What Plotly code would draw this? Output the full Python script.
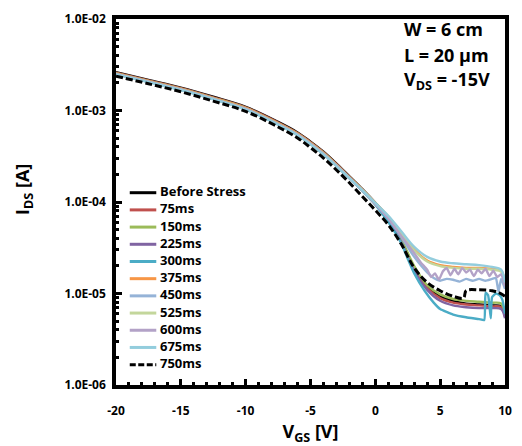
import plotly.graph_objects as go

# ---- data (log10 of I_DS [A]) ----
V_GRID = [-20, -17.5, -15, -12.5, -10, -7.5, -6, -5, -4, -3, -2, -1, 0, 1, 2, 3, 4, 5, 6, 7, 8, 9, 9.7, 10]

LOG_BEFORE = [-2.58, -2.665, -2.75, -2.85, -2.96, -3.125, -3.24, -3.34, -3.45, -3.58, -3.72, -3.86, -4.01, -4.18, -4.42, -4.72, -4.93, -5.03, -5.08, -5.11, -5.12, -5.13, -5.14, -5.25]
LOG_75 = [-2.586, -2.671, -2.756, -2.856, -2.966, -3.131, -3.246, -3.346, -3.456, -3.586, -3.726, -3.866, -4.015, -4.19, -4.43, -4.73, -4.94, -5.05, -5.10, -5.12, -5.13, -5.14, -5.15, -5.25]
LOG_150 = [-2.592, -2.677, -2.762, -2.862, -2.972, -3.137, -3.252, -3.352, -3.462, -3.592, -3.732, -3.87, -4.02, -4.18, -4.41, -4.70, -4.91, -5.01, -5.06, -5.08, -5.09, -5.10, -5.11, -5.22]
LOG_225 = [-2.598, -2.683, -2.768, -2.868, -2.978, -3.143, -3.258, -3.358, -3.468, -3.598, -3.738, -3.875, -4.025, -4.20, -4.44, -4.75, -4.96, -5.08, -5.13, -5.15, -5.16, -5.16, -5.17, -5.27]
LOG_375 = [-2.594, -2.679, -2.764, -2.864, -2.975, -3.14, -3.255, -3.355, -3.465, -3.593, -3.73, -3.865, -4.01, -4.16, -4.34, -4.52, -4.64, -4.69, -4.71, -4.72, -4.72, -4.73, -4.75, -4.88]
LOG_525 = [-2.6, -2.685, -2.77, -2.87, -2.982, -3.147, -3.262, -3.362, -3.472, -3.60, -3.735, -3.87, -4.015, -4.17, -4.35, -4.53, -4.65, -4.70, -4.72, -4.73, -4.73, -4.74, -4.76, -4.90]
LOG_675 = [-2.605, -2.69, -2.776, -2.877, -2.99, -3.156, -3.27, -3.37, -3.48, -3.607, -3.74, -3.872, -4.01, -4.15, -4.32, -4.49, -4.60, -4.65, -4.67, -4.68, -4.69, -4.71, -4.74, -4.88]

V_300 = [-20, -17.5, -15, -12.5, -10, -7.5, -6, -5, -4, -3, -2, -1, 0, 1, 2, 2.5, 3, 3.8, 4.5, 5, 6, 7, 8, 8.4, 8.5, 8.7, 8.9, 9.0, 9.3, 9.6, 9.8, 10]
LOG_300 = [-2.603, -2.688, -2.773, -2.874, -2.986, -3.152, -3.267, -3.367, -3.477, -3.605, -3.74, -3.88, -4.03, -4.22, -4.45, -4.62, -4.78, -4.97, -5.10, -5.17, -5.23, -5.26, -5.28, -5.29, -4.99, -5.02, -5.27, -5.04, -5.00, -5.02, -5.07, -5.22]

V_450 = [-20, -17.5, -15, -12.5, -10, -7.5, -6, -5, -4, -3, -2, -1, 0, 1, 2, 3, 4, 4.5, 5, 5.5, 6, 6.5, 7, 7.5, 8, 8.5, 9, 9.3, 9.5, 9.7, 10]
LOG_450 = [-2.601, -2.686, -2.771, -2.872, -2.984, -3.15, -3.265, -3.365, -3.475, -3.603, -3.738, -3.875, -4.02, -4.18, -4.38, -4.60, -4.77, -4.83, -4.86, -4.84, -4.85, -4.87, -4.84, -4.86, -4.84, -4.86, -4.84, -4.83, -4.98, -4.84, -4.95]

V_600 = [-20, -17.5, -15, -12.5, -10, -7.5, -6, -5, -4, -3, -2, -1, 0, 1, 2, 3, 3.5, 4, 4.3, 4.6, 4.9, 5.2, 5.5, 5.8, 6.1, 6.4, 6.7, 7.0, 7.3, 7.6, 7.9, 8.2, 8.5, 8.8, 9.1, 9.4, 9.7, 10]
LOG_600 = [-2.6, -2.685, -2.77, -2.871, -2.983, -3.148, -3.263, -3.363, -3.473, -3.601, -3.736, -3.873, -4.02, -4.18, -4.37, -4.56, -4.66, -4.74, -4.82, -4.78, -4.85, -4.76, -4.72, -4.80, -4.73, -4.79, -4.72, -4.77, -4.74, -4.81, -4.74, -4.78, -4.73, -4.81, -4.75, -4.82, -4.79, -4.92]

V_750 = [-20, -17.5, -15, -12.5, -10, -7.5, -6, -5, -4, -3, -2, -1, 0, 1, 2, 3, 4, 5, 6, 6.8, 7.0, 8, 9, 9.5, 10]
LOG_750 = [-2.625, -2.708, -2.795, -2.897, -3.01, -3.18, -3.30, -3.405, -3.52, -3.65, -3.79, -3.94, -4.09, -4.25, -4.46, -4.72, -4.88, -4.97, -5.03, -5.05, -4.97, -4.96, -4.97, -4.99, -5.03]

Y_TICKS = [1e-6, 1e-5, 1e-4, 1e-3, 1e-2]
Y_TICK_TEXT = ["1.0E-06", "1.0E-05", "1.0E-04", "1.0E-03", "1.0E-02"]
X_TICKS = [-20, -15, -10, -5, 0, 5, 10]
X_TICK_TEXT = ["-20", "-15", "-10", "-5", "0", "5", "10"]

NAMES = ["Before Stress", "75ms", "150ms", "225ms", "300ms", "375ms", "450ms", "525ms", "600ms", "675ms", "750ms"]
XS = [V_GRID, V_GRID, V_GRID, V_GRID, V_300, V_GRID, V_450, V_GRID, V_600, V_GRID, V_750]
YS = [LOG_BEFORE, LOG_75, LOG_150, LOG_225, LOG_300, LOG_375, LOG_450, LOG_525, LOG_600, LOG_675, LOG_750]
COLORS = ["#000000", "#C0504D", "#9BBB59", "#8064A2", "#4BACC6", "#F79646", "#95B3D7", "#C3D69B", "#B3A2C7", "#93CDDD", "#000000"]
NOISY = {"300ms", "450ms", "600ms"}

FONT = "Open Sans"
W, H = 522, 446
ML, MR, MT, MB = 116, 10, 12, 60
PW, PH = W - ML - MR, H - MT - MB


def px_x(p):
    return (p - ML) / PW


def px_y(p):
    return 1 - (p - MT) / PH


fig = go.Figure()
for i, name in enumerate(NAMES):
    dashed = name == "750ms"
    fig.add_trace(go.Scatter(
        x=XS[i], y=[10 ** v for v in YS[i]], mode="lines", name=name, showlegend=False,
        line=dict(color=COLORS[i], width=3 if dashed else 2.4, dash="7px,3px" if dashed else "solid",
                  shape="spline", smoothing=0.4 if name in NOISY else 1.0),
    ))

# legend drawn as line samples + text (tighter row spacing than Plotly's legend allows)
for i, name in enumerate(NAMES):
    yc = 188 + 17.57 * i
    dashed = name == "750ms"
    fig.add_shape(type="line", xref="paper", yref="paper", x0=px_x(130), x1=px_x(157),
                  y0=px_y(yc + 1.5), y1=px_y(yc + 1.5),
                  line=dict(color=COLORS[i], width=3, dash="6px,2.5px" if dashed else "solid"))
    fig.add_annotation(xref="paper", yref="paper", x=px_x(158.5), y=px_y(yc), text=name, showarrow=False,
                       xanchor="left", yanchor="middle",
                       font=dict(family=FONT, size=13, weight="bold", color="black"))

fig.update_layout(
    width=W, height=H,
    margin=dict(l=ML, r=MR, t=MT, b=MB),
    paper_bgcolor="white", plot_bgcolor="white",
    font=dict(family=FONT, color="black"),
    showlegend=False,
)

fig.update_xaxes(
    range=[-20, 10], tickvals=X_TICKS, ticktext=X_TICK_TEXT, ticks="inside", ticklen=6, tickwidth=2.5,
    tickcolor="black",
    showline=True, linewidth=3.5, linecolor="black", mirror=True, showgrid=False, zeroline=False,
    tickfont=dict(family=FONT, size=12, weight="bold"), ticklabelstandoff=12,
    minor=dict(ticks="inside", ticklen=3.5, tickwidth=2.5, dtick=1, tickcolor="black", showgrid=False),
    title=dict(text="V<sub>GS</sub> [V]", font=dict(family=FONT, size=18, weight="bold"), standoff=4),
)
fig.update_yaxes(
    type="log", range=[-6, -2], tickvals=Y_TICKS, ticktext=Y_TICK_TEXT, ticks="inside", ticklen=6,
    tickwidth=2.5, tickcolor="black",
    showline=True, linewidth=3.5, linecolor="black", mirror=True, showgrid=False, zeroline=False,
    tickfont=dict(family=FONT, size=12, weight="bold"), ticklabelstandoff=4,
    minor=dict(ticks="inside", ticklen=3.5, tickwidth=2.5, dtick="D1", tickcolor="black", showgrid=False),
)

# y-axis title placed where the reference has it
fig.add_annotation(xref="paper", yref="paper", x=px_x(22), y=px_y(186), text="I<sub>DS</sub> [A]",
                   textangle=-90, showarrow=False, xanchor="center", yanchor="middle",
                   font=dict(family=FONT, size=18, weight="bold", color="black"))

ANNOT = ["W = 6 cm", "L = 20 µm", "V<sub>DS</sub> = -15V"]
for i, t in enumerate(ANNOT):
    fig.add_annotation(xref="paper", yref="paper", x=px_x(407), y=px_y(22 + 26.5 * i),
                       text=t, showarrow=False, xanchor="left", yanchor="middle",
                       font=dict(family=FONT, size=18, weight="bold", color="black"))

fig.write_html("out.html", config={"displayModeBar": False},
               post_script="document.body.style.margin='0';")
